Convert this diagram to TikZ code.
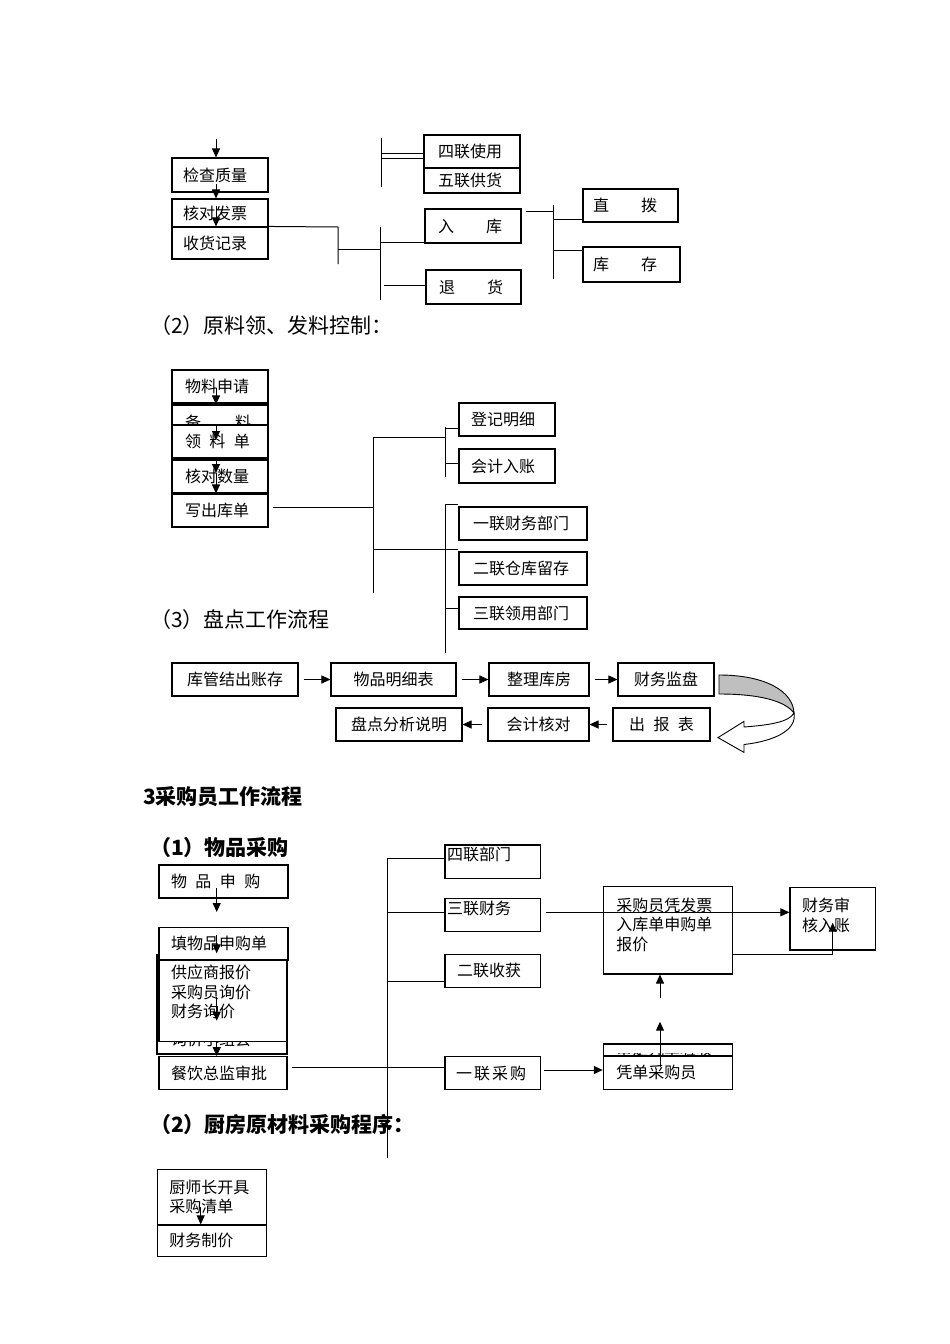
\documentclass[tikz,border=0pt]{standalone}
\usepackage{fontspec}
\setmainfont{Noto Sans CJK SC}
\usetikzlibrary{arrows.meta}
\newcommand\bx[8]{%
  \pgfmathsetmacro\bw{#5-#3}\pgfmathsetmacro\bh{#6-#4}\pgfmathsetmacro\tw{#5-#3-2*#7}%
  \node[box, inner xsep=#7pt, text width=\tw pt, minimum width=\bw pt, minimum height=\bh pt, #1] (#2) at ({(#3+#5)/2},{(#4+#6)/2}) {#8};}
\tikzset{
  box/.style={draw, fill=white, line width=1.1pt, inner ysep=0pt, align=left, font=\fontsize{16}{19.5}\selectfont},
  txt/.style={inner sep=0pt, anchor=west, font=\fontsize{16}{19.5}\selectfont},
  head/.style={inner sep=0pt, anchor=west, font=\fontsize{21}{24}\selectfont},
  headb/.style={inner sep=0pt, anchor=west, font=\fontsize{21}{24}\selectfont\bfseries},
  ln/.style={line width=1pt},
  arr/.style={line width=1pt, -{Triangle[length=9pt,width=8pt]}}
}
\begin{document}
\begin{tikzpicture}[x=1pt,y=-1pt]
\fill[white] (0,0) rectangle (950,1344);
\useasboundingbox (0,0) rectangle (950,1344);

% ---------- section 1 ----------
\bx{}{jc}{172}{158}{268}{192}{11}{检查质量}
\bx{}{hd}{172}{199}{268}{227}{11}{核对发票}
\bx{}{sh}{172}{227}{268}{259}{11}{收货记录}
\coordinate (a1) at (216,139);
\draw[arr] (a1) -- (jc.north -| a1);
\draw[arr] (216,184) -- (hd.north -| a1);
\draw[arr] (216,206) -- (sh.north -| a1);

\bx{}{sl}{424}{135}{520}{168}{14}{四联使用}
\bx{}{wl}{424}{168}{520}{193}{14}{五联供货}
\bx{}{rk}{425}{209}{521}{243}{13}{入　　库}
\bx{}{th}{426}{270}{521}{304}{13}{退　　货}
\bx{}{zb}{583}{189}{678}{222}{10}{直　　拨}
\bx{}{kc}{583}{247}{680}{282}{10}{库　　存}

\draw[ln] (sh.north east) -- (338,227) -- (338,264);
\draw[ln] (338,249) -- (380,249);
\draw[ln] (380,227) -- (380,300);
\draw[ln] (380,242) -- (rk.west |- 380,242);
\draw[ln] (383.5,285) -- (th.west |- 0,285);
\draw[ln] (381,138) -- (381,187);
\draw[ln] (381,153) -- (sl.west |- 0,153);
\draw[ln] (381,158) -- (sl.west |- 0,158);
\draw[ln] (525.6,211.7) -- (553.5,211.7);
\draw[ln] (553.5,205) -- (553.5,279);
\draw[ln] (553.5,219) -- (zb.west |- 0,219);
\draw[ln] (553.5,250) -- (kc.west |- 0,250);

\node[head] (t2) at (150,326) {（2）原料领、发料控制：};

% ---------- section 2 ----------
\bx{}{wlsq}{172}{370}{268}{403}{13}{物料申请}
\bx{}{bl}{172}{405}{268}{440}{13}{备\hspace{34pt}料}
\bx{}{lld}{172}{425}{268}{458}{13}{领\hspace{8.5pt}料\hspace{8.5pt}单}
\bx{}{hdsl}{172}{460}{268}{493}{13}{核对数量}
\bx{}{xck}{172}{494}{268}{527}{13}{写出库单}
\draw[arr] (216,388) -- (bl.north -| a1);
\draw[arr] (216,426) -- (216,440);
\draw[arr] (216,461) -- (216,473);
\draw[arr] (216,473) -- (xck.north -| a1);

\bx{}{djmx}{459}{403}{555}{436}{12}{登记明细}
\bx{}{kjrz}{459}{449}{555}{483}{12}{会计入账}
\bx{}{yl}{459}{507}{587}{540}{14}{一联财务部门}
\bx{}{el}{459}{552}{587}{585}{14}{二联仓库留存}
\bx{}{sl3}{459}{597}{587}{629}{14}{三联领用部门}

\draw[ln] (273,507) -- (373,507);
\draw[ln] (373,437) -- (373,593);
\draw[ln] (373,437) -- (445,437);
\draw[ln] (445,427) -- (445,477);
\draw[ln] (445,428) -- (djmx.west |- 0,428);
\draw[ln] (445,463) -- (kjrz.west |- 0,463);
\draw[ln] (373,549) -- (el.west |- 0,549);
\draw[ln] (445,504) -- (445,653);
\draw[ln] (445,504) -- (yl.west |- 0,504);
\draw[ln] (445,608) -- (sl3.west |- 0,608);

\node[head] (t3) at (150,620) {（3）盘点工作流程};

% ---------- section 3 ----------
\bx{align=center}{gg}{172}{663}{298}{696}{2}{库管结出账存}
\bx{align=center}{wp}{331}{663}{456}{696}{2}{物品明细表}
\bx{align=center}{zl}{489}{663}{589}{696}{2}{整理库房}
\bx{align=center}{cw}{618}{663}{714}{696}{2}{财务监盘}
\bx{align=center}{pd}{336}{708}{462}{741}{2}{盘点分析说明}
\bx{align=center}{kh}{488}{708}{589}{741}{2}{会计核对}
\bx{align=center}{cb}{613}{708}{710}{741}{2}{出\hspace{8.5pt}报\hspace{8.5pt}表}
\draw[arr] ([xshift=5pt]gg.east) -- (wp.west);
\draw[arr] ([xshift=5pt]wp.east) -- (zl.west);
\draw[arr] ([xshift=5pt]zl.east) -- (cw.west);
\draw[arr] ([xshift=-5pt]cb.west) -- (kh.east);
\draw[arr] ([xshift=-5pt]kh.west) -- (pd.east);

% curved block arrow
\draw[line width=0.9pt, fill=black!25] (719,675) .. controls (765,675) and (793,691) .. (794,713)
   .. controls (785,701) and (760,694) .. (719,694) -- cycle;
\draw[line width=0.9pt, fill=white] (794,713) .. controls (797,730) and (775,741) .. (744,744.5)
   -- (744,752.4) -- (718,737.6) -- (744,721.4) -- (744,727)
   .. controls (770,725) and (789,722) .. (794,713) -- cycle;

\node[headb] (t4) at (143,797) {3采购员工作流程};
\node[headb] (t5) at (150,848) {（1）物品采购};

% ---------- purchase ----------
\bx{}{wpsg}{159}{865}{288}{898}{12}{物\hspace{8.5pt}品\hspace{8.5pt}申\hspace{8.5pt}购}
\coordinate (a2) at (216.7,888);
\draw[arr] (a2) -- (216.7,912);
\bx{}{xjxz}{157}{955}{287}{1054}{12}{}
\begin{scope}
\clip (157,1042.5) rectangle (287,1047);
\node[txt] (xjxzt) at (171,1039) {询价小组会};
\end{scope}
\bx{}{gys}{159}{958}{287}{1041.7}{12}{供应商报价\\采购员询价\\财务询价\\[-2.5pt]\mbox{}}
\bx{}{tw}{159}{927.7}{288}{960}{12}{填物品申购单}
\bx{}{cy}{159}{1056.7}{287}{1089.3}{12}{餐饮总监审批}
\draw[arr] (216.7,935) -- (216.7,953.3);
\draw[arr] (216.7,996.7) -- (216.7,1020.7);
\draw[arr] (216.7,1041.7) -- (cy.north -| a2);

\bx{}{sl4}{445}{845}{540.7}{878.3}{2}{四联部门\\[-4pt]\mbox{}}
\bx{}{slcw}{445}{898.3}{540.7}{931.7}{2}{三联财务\\[-6pt]\mbox{}}
\bx{}{elsh}{445}{954.3}{540.7}{987.3}{12}{二联收获}
\bx{}{yc}{445}{1056.7}{540.7}{1089.3}{11}{一\hspace{2pt}联\hspace{2pt}采\hspace{2pt}购}

\bx{}{cgy}{603.3}{886.7}{732.3}{974}{13}{采购员凭发票\\入库单申购单\\报价\\[-7pt]\mbox{}}
\bx{}{cwsh}{790}{887.7}{875.7}{950}{12}{财务审\\核入账\\[-11.5pt]\mbox{}}
\draw[arr] (546,912.3) -- (cwsh.west |- 0,912.3);
\draw[arr] (cgy.east |- 0,954) -- (832.7,954) -- (832.7,922.7);
\draw[arr] (660,998.3) -- (cgy.south -| 660,0);

\bx{}{sdpd}{603.3}{1044}{732.3}{1089.3}{13}{}
\begin{scope}
\clip (603.3,1053) rectangle (732.3,1056);
\node[txt] (sdpdt) at (616,1049) {审定凭单验收};
\end{scope}
\bx{}{pd2}{603.3}{1056}{732.3}{1089.3}{13}{凭单采购员}
\draw[arr] (660,1066.7) -- (660,1021.7);
\draw[arr] (544,1070) -- (pd2.west |- 0,1070);

\node[headb] (t6) at (150,1125) {（2）厨房原材料采购程序：};

\draw[ln] (291.7,1067.7) -- (yc.west |- 0,1067.7);
\draw[ln] (387.7,858.3) -- (387.7,1158);
\draw[ln] (387.7,858.3) -- (sl4.west |- 0,858.3);
\draw[ln] (387.7,912.7) -- (slcw.west |- 0,912.7);
\draw[ln] (387.7,981.7) -- (elsh.west |- 0,981.7);

% ---------- bottom ----------
\bx{}{csz}{157.3}{1169.3}{266.7}{1225}{12}{厨师长开具\\采购清单}
\bx{}{cwzj}{157.3}{1225}{266.7}{1256.7}{12}{财务制价}
\draw[arr] (200.7,1207) -- (cwzj.north -| 200.7,0);
\end{tikzpicture}
\end{document}
